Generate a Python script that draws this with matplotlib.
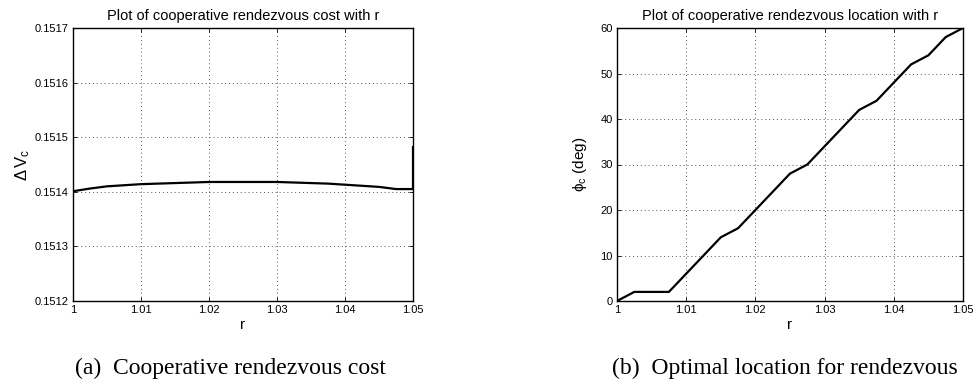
import numpy as np
import matplotlib
matplotlib.use("Agg")
import matplotlib.pyplot as plt

plt.rcParams['font.family'] = ['Liberation Sans', 'DejaVu Sans']
plt.rcParams['mathtext.fontset'] = 'custom'
plt.rcParams['mathtext.rm'] = 'Liberation Sans'
plt.rcParams['mathtext.it'] = 'Liberation Sans'
plt.rcParams['mathtext.sf'] = 'Liberation Sans'

# Data
r_cost = [1.0, 1.0025, 1.005, 1.0075, 1.01, 1.0125, 1.015, 1.0175, 1.02, 1.0225, 1.025,
          1.0275, 1.03, 1.0325, 1.035, 1.0375, 1.04, 1.0425, 1.045, 1.0475, 1.05, 1.05]
cost = [0.151401, 0.151406, 0.151410, 0.151412, 0.151414, 0.151415, 0.151416, 0.151417,
        0.151418, 0.151418, 0.151418, 0.151418, 0.151418, 0.151417, 0.151416, 0.151415,
        0.151413, 0.151411, 0.151409, 0.151405, 0.151405, 0.151482]

r_loc = [1.0, 1.0025, 1.005, 1.0075, 1.01, 1.0125, 1.015, 1.0175, 1.02, 1.0225, 1.025,
         1.0275, 1.03, 1.0325, 1.035, 1.0375, 1.04, 1.0425, 1.045, 1.0475, 1.05]
phi = [0, 2, 2, 2, 6, 10, 14, 16, 20, 24, 28, 30, 34, 38, 42, 44, 48, 52, 54, 58, 60]

x_ticks = [1.0, 1.01, 1.02, 1.03, 1.04, 1.05]
x_labels = ['1', '1.01', '1.02', '1.03', '1.04', '1.05']
y1_ticks = [0.1512, 0.1513, 0.1514, 0.1515, 0.1516, 0.1517]
y2_ticks = [0, 10, 20, 30, 40, 50, 60]

fig = plt.figure(figsize=(9.75, 3.87), dpi=100)
ax1 = fig.add_axes([73/975, 1-301/387, 340/975, 273/387])
ax2 = fig.add_axes([617/975, 1-301/387, 346/975, 273/387])

def style(ax):
    ax.set_xlim(1.0, 1.05)
    ax.set_xticks(x_ticks)
    ax.set_xticklabels(x_labels)
    ax.grid(True, linestyle=(0, (1, 3)), color='#555555', linewidth=0.7)
    ax.tick_params(direction='in', length=3, width=0.6, labelsize=8, top=True, right=True, pad=3)
    for s in ax.spines.values():
        s.set_linewidth(1.0)
    ax.set_xlabel('r', fontsize=11, labelpad=2)

ax1.plot(r_cost, cost, color='black', linewidth=1.6)
style(ax1)
ax1.set_ylim(0.1512, 0.1517)
ax1.set_yticks(y1_ticks)
ax1.set_yticklabels([f'{v:.4f}' for v in y1_ticks])
ax1.set_ylabel(r'$\Delta\,$V$_{\rm c}$', fontsize=12, labelpad=2)
ax1.set_title('Plot of cooperative rendezvous cost with r', fontsize=10.5, pad=6)

ax2.plot(r_loc, phi, color='black', linewidth=1.6)
style(ax2)
ax2.set_ylim(0, 60)
ax2.set_yticks(y2_ticks)
ax2.set_ylabel(r'$\phi_{\rm c}$ (deg)', fontsize=11, labelpad=8)
ax2.set_title('Plot of cooperative rendezvous location with r', fontsize=10.5, pad=6)

fig.text(230/975, 1-368/387, '(a)  Cooperative rendezvous cost', family='Liberation Serif',
         fontsize=17, ha='center', va='center')
fig.text(785/975, 1-368/387, '(b)  Optimal location for rendezvous', family='Liberation Serif',
         fontsize=17, ha='center', va='center')

fig.savefig('out.png', dpi=100)
